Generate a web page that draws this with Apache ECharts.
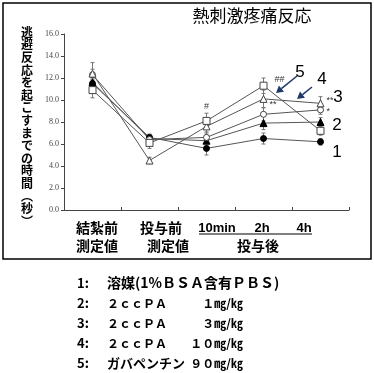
<!DOCTYPE html>
<html><head><meta charset="utf-8">
<script src="https://cdn.jsdelivr.net/npm/echarts@6/dist/echarts.min.js"></script>
<style>html,body{margin:0;padding:0;background:#fff}#c{width:374px;height:373px}</style>
</head><body><div id="c"></div>
<script>
var categories = ['結紮前','投与前','10min','2h','4h'];
var xLine1 = ['結紮前','投与前','10min','2h','4h'];
var xLine2 = ['測定値','測定値','投与後'];
var yTicks = [0,2,4,6,8,10,12,14,16];
var s1 = [11.5, 6.6, 5.6, 6.5, 6.2];
var s2 = [11.6, 6.5, 6.3, 7.9, 8.0];
var s3 = [12.3, 6.4, 6.6, 8.7, 9.1];
var s4 = [12.4, 4.5, 7.6, 10.1, 9.7];
var s5 = [10.9, 6.1, 8.1, 11.3, 7.2];
var e1 = [0.4, 0.3, 0.6, 0.5, 0.3];
var e2 = [0.4, 0.3, 0.5, 0.6, 0.4];
var e3 = [0.5, 0.4, 0.5, 0.6, 0.4];
var e4 = [1.0, 0.3, 0.6, 0.8, 0.6];
var e5 = [0.7, 0.5, 0.7, 0.7, 0.4];
var seriesNums = ['1','2','3','4','5'];
var legendNums = ['1:','2:','3:','4:','5:'];
var legendNames = ['溶媒(1%ＢＳＡ含有ＰＢＳ)','２ｃｃＰＡ','２ｃｃＰＡ','２ｃｃＰＡ','ガバペンチン'];
var legendDoses = ['','１㎎/㎏','３㎎/㎏','１０㎎/㎏','９０㎎/㎏'];
var annotations = [
  {s:4, i:2, text:'#'},
  {s:4, i:3, text:'##'},
  {s:3, i:3, text:'**'},
  {s:3, i:4, text:'**'},
  {s:2, i:4, text:'*'}
];
var title = '熱刺激疼痛反応';
var yName = '逃避反応を起こすまでの時間︵秒︶';

var annOffset = {'4-2':[0,-14,'center'], '4-3':[11,-6,'left'], '3-3':[6,6,'left'], '3-4':[6,-3,'left'], '2-4':[6,2,'left']};

var chart = echarts.init(document.getElementById('c'));
var vals = [s1,s2,s3,s4,s5];
var errs = [e1,e2,e3,e4,e5];
var symbols = ['circle','triangle','circle','triangle','rect'];
var fills = ['#000','#000','#fff','#fff','#fff'];
var sizes = [6,7,6,7,7];

var series = [];
vals.forEach(function(v, k){
  series.push({
    type:'custom', z:1, silent:true,
    data: v.map(function(x,i){return [i, x-errs[k][i], x+errs[k][i]];}),
    encode:{x:0,y:[1,2]},
    renderItem:function(params, api){
      var lo = api.coord([api.value(0), api.value(1)]);
      var hi = api.coord([api.value(0), api.value(2)]);
      var w = 2;
      var st = {stroke:'#777', lineWidth:1};
      return {type:'group', children:[
        {type:'line', shape:{x1:lo[0],y1:lo[1],x2:hi[0],y2:hi[1]}, style:st},
        {type:'line', shape:{x1:hi[0]-w,y1:hi[1],x2:hi[0]+w,y2:hi[1]}, style:st},
        {type:'line', shape:{x1:lo[0]-w,y1:lo[1],x2:lo[0]+w,y2:lo[1]}, style:st}
      ]};
    }
  });
});
vals.forEach(function(v,k){
  series.push({
    type:'line', z:3, symbol:symbols[k], symbolSize:sizes[k], showAllSymbol:true,
    lineStyle:{color:'#555', width:1},
    itemStyle:{color:fills[k], borderColor: k<2 ? '#000' : '#444', borderWidth:1},
    data: v.map(function(x,i){
      var a = annotations.filter(function(q){return q.s===k && q.i===i;})[0];
      if(!a) return x;
      var o = annOffset[k+'-'+i];
      return {value:x, label:{show:true, formatter:a.text, position:'inside', offset:[o[0],o[1]], align:o[2], color:'#333', fontSize:9, fontFamily:'Arial'}};
    }),
    emphasis:{disabled:true}, animation:false
  });
});

var graphic = [];
graphic.push({type:'rect', shape:{x:3,y:3,width:368,height:256}, style:{fill:'none', stroke:'#000', lineWidth:1.5}, z:0});
graphic.push({type:'text', x:252, y:16, style:{text:title, font:'17px "Noto Sans CJK JP"', fill:'#000', align:'center', verticalAlign:'middle'}});
graphic.push({type:'text', x:27, y:26, style:{text:yName.split('').join('\n'), font:'bold 12px "Noto Sans CJK JP"', lineHeight:12.6, fill:'#000', align:'center', verticalAlign:'top'}});
var l1x = [97,161,217,262,304];
xLine1.forEach(function(t,i){
  graphic.push({type:'text', x:l1x[i], y:228, style:{text:t, font:(i>=2?'bold 13px Arial':'bold 14px "Noto Sans CJK JP"'), fill:'#000', align:'center', verticalAlign:'middle'}});
});
var l2x = [97,168,258];
xLine2.forEach(function(t,i){
  graphic.push({type:'text', x:l2x[i], y:246, style:{text:t, font:'bold 14px "Noto Sans CJK JP"', fill:'#000', align:'center', verticalAlign:'middle'}});
});
graphic.push({type:'line', shape:{x1:199,y1:234,x2:312,y2:234}, style:{stroke:'#000', lineWidth:1}});
var numPos = [[337,152],[337,125],[338,97],[322,79],[300,72]];
seriesNums.forEach(function(t,i){
  graphic.push({type:'text', x:numPos[i][0], y:numPos[i][1], style:{text:t, font:'17px Arial', fill:'#000', align:'center', verticalAlign:'middle'}});
});
function arrow(x1,y1,x2,y2){
  var ang = Math.atan2(y2-y1, x2-x1), h = 7, hw = 4;
  var bx = x2 - h*Math.cos(ang), by = y2 - h*Math.sin(ang);
  var px = -Math.sin(ang)*hw, py = Math.cos(ang)*hw;
  graphic.push({type:'line', shape:{x1:x1,y1:y1,x2:bx,y2:by}, style:{stroke:'#1f3a68', lineWidth:1.5}});
  graphic.push({type:'polygon', shape:{points:[[x2,y2],[bx+px,by+py],[bx-px,by-py]]}, style:{fill:'#1f3a68'}});
}
arrow(297,76,276,93);
arrow(312,87,297,99);
var ly = [283,303,323,343,363];
var nameFont = [14,12,12,12,13];
legendNums.forEach(function(t,i){
  graphic.push({type:'text', x:77, y:ly[i], style:{text:t, font:'bold 13px "Noto Sans CJK JP"', fill:'#000', verticalAlign:'middle'}});
  graphic.push({type:'text', x:107, y:ly[i], style:{text:legendNames[i], font:'bold '+nameFont[i]+'px "Noto Sans CJK JP"', fill:'#000', verticalAlign:'middle'}});
  if(legendDoses[i]) graphic.push({type:'text', x:243, y:ly[i], style:{text:legendDoses[i], font:'bold 12px "Noto Sans CJK JP"', fill:'#000', align:'right', verticalAlign:'middle'}});
});

chart.setOption({
  animation:false,
  grid:{left:64, right:25, top:34, bottom:163},
  xAxis:{type:'category', data:categories, boundaryGap:true,
    axisLine:{lineStyle:{color:'#444', width:1}},
    axisTick:{show:true, inside:true, length:3, lineStyle:{color:'#444'}},
    axisLabel:{show:false}, splitLine:{show:false}},
  yAxis:{type:'value', min:0, max:16, interval:2,
    axisLine:{show:true, lineStyle:{color:'#444', width:1}},
    axisTick:{show:true, length:3, lineStyle:{color:'#444'}},
    axisLabel:{fontSize:8, fontFamily:'Liberation Serif', color:'#444', margin:5,
      formatter:function(v){return yTicks.indexOf(v)>=0 ? v.toFixed(1) : '';}},
    splitLine:{show:false}},
  series:series,
  graphic:graphic
});
</script></body></html>
